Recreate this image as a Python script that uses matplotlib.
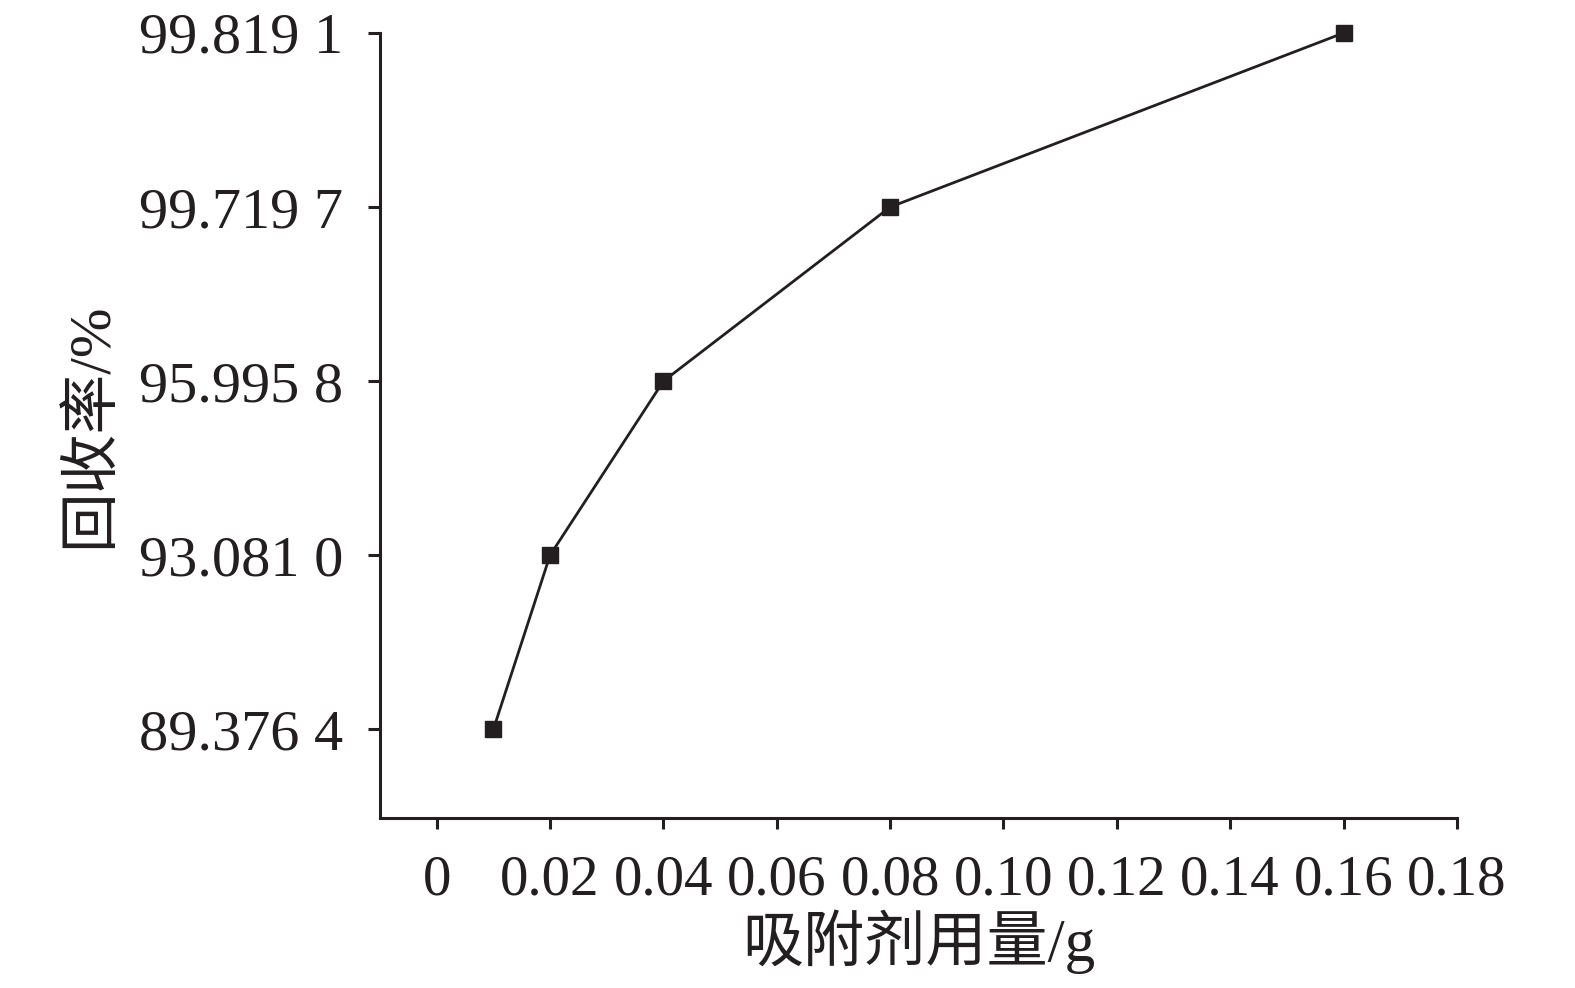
import numpy as np
from matplotlib import pyplot as plt

plt.rcParams['font.family'] = ['Liberation Serif', 'Noto Sans CJK SC']

# adsorbent dose (g) and recovery (%); y axis is drawn at equal spacing per level
dose = [0.01, 0.02, 0.04, 0.08, 0.16]
recovery_labels = ["89.376 4", "93.081 0", "95.995 8", "99.719 7", "99.819 1"]
level = np.arange(len(recovery_labels))

xticks = [0, 0.02, 0.04, 0.06, 0.08, 0.10, 0.12, 0.14, 0.16, 0.18]
xticklabels = ["0", "0.02", "0.04", "0.06", "0.08", "0.10", "0.12", "0.14", "0.16", "0.18"]

col = "#231f20"
fig = plt.figure(figsize=(15.75, 9.88), dpi=100)
ax = fig.add_axes([0.2413, 0.172, 0.925 - 0.2413, 0.9666 - 0.172])

ax.plot(dose, level, color=col, lw=2.0, marker="s", ms=11, mfc=col, mec=col, clip_on=False)

ax.set_xlim(-0.01, 0.18)
ax.set_ylim(-0.51, 4)
ax.set_xticks(xticks)
ax.set_xticklabels(xticklabels)
ax.set_yticks(level)
ax.set_yticklabels(recovery_labels)

for s in ["top", "right"]:
    ax.spines[s].set_visible(False)
for s in ["left", "bottom"]:
    ax.spines[s].set_linewidth(2.2)
    ax.spines[s].set_color(col)
ax.spines["left"].set_bounds(-0.51, 4)

ax.tick_params(axis="y", length=8.5, width=2.2, color=col, labelsize=42, pad=18, labelcolor=col)
ax.tick_params(axis="x", length=8, width=2.2, color=col, labelsize=41, pad=18, labelcolor=col)

ax.set_xlabel("吸附剂用量/g", fontsize=44, color=col, labelpad=2)
ax.set_ylabel("回收率/%", fontsize=43, color=col, labelpad=14)

plt.savefig("out.png", dpi=100)
